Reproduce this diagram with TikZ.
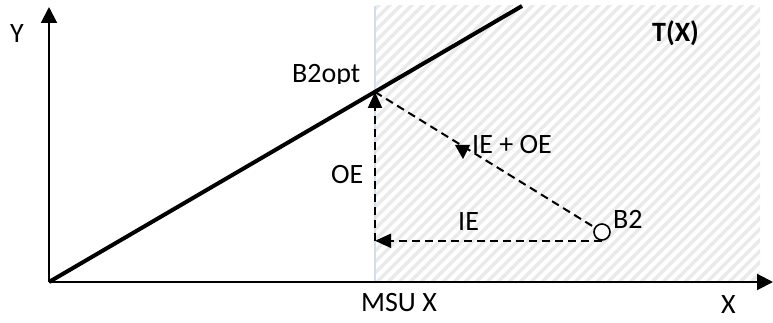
\documentclass[tikz,border=0pt]{standalone}
\usepackage{fontspec}
\setmainfont{Carlito}
\usetikzlibrary{arrows.meta}
\definecolor{hatchgray}{HTML}{EAEAEA}
\definecolor{msublue}{HTML}{D3DEEC}
\begin{document}
\begin{tikzpicture}[x=1pt,y=-1pt,
  lab/.style={font=\fontsize{28}{32}\selectfont, inner sep=0pt, anchor=base west},
  dashline/.style={line width=2pt, dash pattern=on 8pt off 5pt},
  tipend/.style={-{Triangle[length=16pt,width=14pt]}},
  axis/.style={line width=2pt, -{Triangle[length=16pt,width=16pt]}},
  hatch/.style={line width=3.5pt, hatchgray}]
\useasboundingbox (0,0) rectangle (773,323);
% hatched region T(X)
\begin{scope}
  \clip (375,6) rectangle (760,282);
  \foreach \i in {0,...,62} {
    \draw[hatch] (80+\i*11, 282) -- ++(286,-286);
  }
\end{scope}
\coordinate (MT) at (375,6);
\coordinate (MB) at (375,282);
\draw[line width=2pt, msublue] (MB) -- (MT);
% coordinates
\coordinate (O) at (49,282);
\coordinate (Ytip) at (49,7);
\coordinate (Xtip) at (773,282);
\coordinate (Lend) at (522,6);
\coordinate (P) at (375,92);
\node[circle, draw, line width=1.6pt, fill=white, minimum size=16pt, inner sep=0pt] (B2) at (602,232) {};
\coordinate (Q) at (B2.south -| P);
% axes
\draw[axis] (O) -- (Ytip);
\draw[axis] (O) -- (Xtip);
% frontier line
\draw[line width=4pt] (O) -- (Lend);
% efficiency vectors
\draw[dashline, tipend] (B2.south) -- (Q);
\draw[dashline, tipend] (Q) -- (P);
\draw[dashline] (P) -- (B2);
\fill (455,145) -- (470,145) -- (463,159) -- cycle;
% labels
\node[lab] (ylab) at (10,43) {Y};
\node[lab] (xlab) at (721,313) {X};
\node[lab] (msu) at (361,311) {MSU X};
\begin{scope}
  \clip (280,55) rectangle (372,84);
  \node[lab] (b2opt) at (292,83) {B2opt};
\end{scope}
\node[lab] (oe) at (331,183) {OE};
\node[lab] (ieoe) at (472,154) {IE + OE};
\node[lab] (ie) at (458,230) {IE};
\node[lab] (b2lab) at (613,228) {B2};
\node[lab, font=\fontsize{28}{32}\selectfont\bfseries] (tx) at (652,42) {T(X)};
\end{tikzpicture}
\end{document}
